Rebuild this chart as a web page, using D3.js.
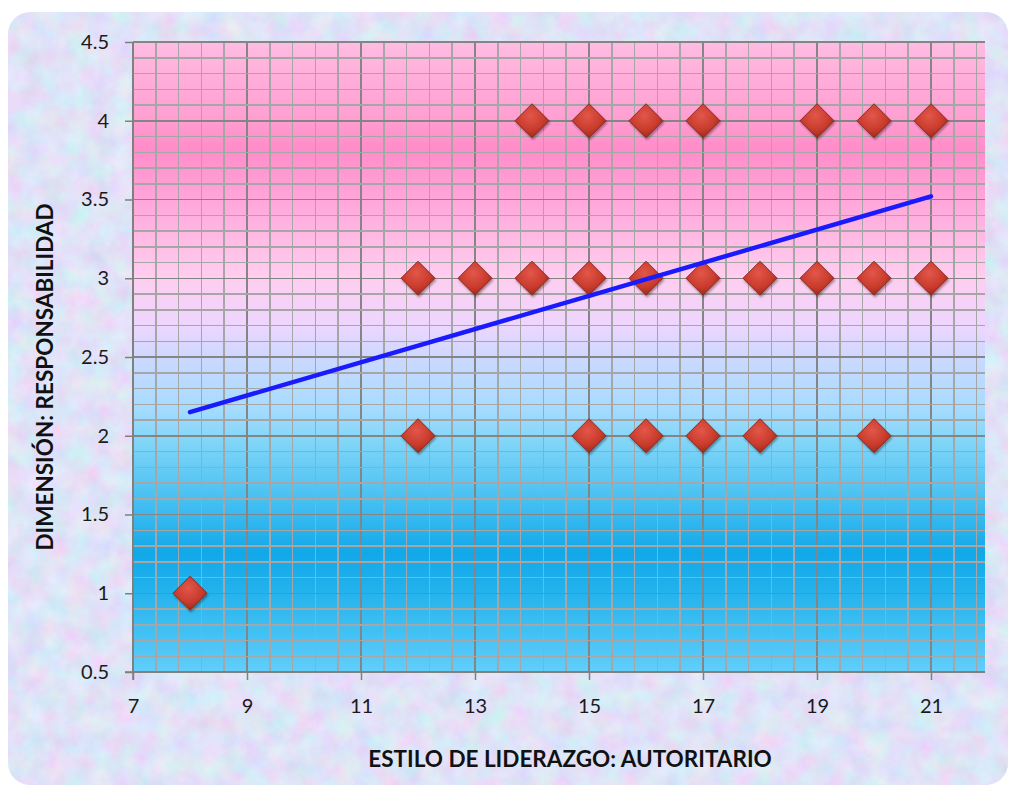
<!DOCTYPE html>
<html><head><meta charset="utf-8">
<script src="https://cdn.jsdelivr.net/npm/d3@7"></script>
<style>body{margin:0;background:#fff}svg{display:block}</style>
</head><body>
<svg id="chart" width="1016" height="789"></svg>
<script>
// Data
const pointX = [8, 12, 12, 13, 14, 14, 15, 15, 15, 16, 16, 16, 17, 17, 17, 18, 18, 19, 19, 20, 20, 20, 21, 21];
const pointY = [1, 3, 2, 3, 4, 3, 4, 3, 2, 4, 3, 2, 4, 3, 2, 3, 2, 4, 3, 4, 3, 2, 4, 3];
const trendX = [8, 21];
const trendY = [2.15, 3.52];
const xTicks = [7, 9, 11, 13, 15, 17, 19, 21];
const yTicks = [0.5, 1, 1.5, 2, 2.5, 3, 3.5, 4, 4.5];
const xTitle = "ESTILO DE LIDERAZGO: AUTORITARIO";
const yTitle = "DIMENSIÓN: RESPONSABILIDAD";

(function(){
const svg = d3.select("#chart");
const defs = svg.append("defs");
const font = "Lato, 'Open Sans', sans-serif";

// Textured outer background
const texF = defs.append("filter").attr("id","tex").attr("x",0).attr("y",0).attr("width","100%").attr("height","100%");
texF.append("feTurbulence").attr("type","fractalNoise").attr("baseFrequency","0.045").attr("numOctaves",4).attr("seed",7).attr("result","n");
texF.append("feColorMatrix").attr("in","n").attr("type","matrix")
  .attr("values","0.55 -0.2 0 0 0.62  -0.1 0.5 0 0 0.62  0 0 0.25 0 0.8  0 0 0 0 1");
const clip = defs.append("clipPath").attr("id","bgclip");
clip.append("rect").attr("x",8).attr("y",12).attr("width",1000).attr("height",773).attr("rx",22);
svg.append("g").attr("clip-path","url(#bgclip)")
  .append("rect").attr("x",8).attr("y",12).attr("width",1000).attr("height",773)
  .attr("filter","url(#tex)");
svg.append("rect").attr("x",8).attr("y",12).attr("width",1000).attr("height",773).attr("rx",22)
  .attr("fill","#d0d4f8").attr("opacity",0.3);

// Scales
const x = d3.scaleLinear().domain([7, 22]).range([133, 988]);
const y = d3.scaleLinear().domain([0.5, 4.5]).range([672, 42]);
const pL = x(7), pR = 985, pT = y(4.5), pB = y(0.5);

// Plot gradient
const grad = defs.append("linearGradient").attr("id","plotg").attr("x1",0).attr("y1",0).attr("x2",0).attr("y2",1);
const stops = [[0,"#ffbce2"],[0.12,"#ff9fd2"],[0.17,"#ff8cca"],[0.25,"#ffa6da"],[0.37,"#ffcdef"],[0.45,"#eed6ff"],[0.5,"#cdd8ff"],[0.58,"#a6dcff"],[0.63,"#84d6f8"],[0.75,"#38baf0"],[0.81,"#12a8e8"],[0.87,"#22b2ec"],[1,"#62cefa"]];
stops.forEach(s => grad.append("stop").attr("offset",s[0]).attr("stop-color",s[1]));
svg.append("rect").attr("x",pL).attr("y",pT).attr("width",pR-pL).attr("height",pB-pT).attr("fill","url(#plotg)");

// Grid
const gx = svg.append("g");
d3.range(0, 38).map(i => 7 + i*0.4).filter(v => x(v) <= pR+0.5).forEach(v => {
  const major = Math.abs((v-7)/2 - Math.round((v-7)/2)) < 1e-6;
  gx.append("line").attr("x1",x(v)).attr("x2",x(v)).attr("y1",pT).attr("y2",pB)
    .attr("stroke", major ? "#858585" : "#a6a6a6").attr("stroke-width",1.5).attr("shape-rendering","crispEdges");
});
d3.range(0, 41).map(i => 0.5 + i*0.1).forEach(v => {
  const major = Math.abs(v*2 - Math.round(v*2)) < 1e-6;
  gx.append("line").attr("x1",pL).attr("x2",pR).attr("y1",y(v)).attr("y2",y(v))
    .attr("stroke", major ? "#858585" : "#a6a6a6").attr("stroke-width",1.5).attr("shape-rendering","crispEdges");
});

// Axes
const xAxis = d3.axisBottom(x).tickValues(xTicks).tickSize(8).tickPadding(19).tickFormat(d3.format("d"));
const yAxis = d3.axisLeft(y).tickValues(yTicks).tickSize(8).tickPadding(16).tickFormat(d => String(d));
const ax = svg.append("g").attr("transform",`translate(0,${pB})`).call(xAxis);
const ay = svg.append("g").attr("transform",`translate(${pL},0)`).call(yAxis);
[ax, ay].forEach(g => {
  g.select(".domain").remove();
  g.attr("font-size", null).attr("font-family", null);
  g.selectAll("line").attr("stroke","#7f7f7f").attr("stroke-width",1.5);
  g.selectAll("text").attr("fill","#1a1a1a").style("font-family",font).style("font-size","20px");
});
svg.append("line").attr("x1",pL-8).attr("x2",pR).attr("y1",pB).attr("y2",pB).attr("stroke","#7f7f7f").attr("stroke-width",1.5);
svg.append("line").attr("x1",pL).attr("x2",pL).attr("y1",pT).attr("y2",pB+8).attr("stroke","#7f7f7f").attr("stroke-width",1.5);

// Diamond gradient
const dg = defs.append("radialGradient").attr("id","dia").attr("cx","45%").attr("cy","35%").attr("r","70%");
dg.append("stop").attr("offset",0).attr("stop-color","#e2574a");
dg.append("stop").attr("offset",0.6).attr("stop-color","#c93b2c");
dg.append("stop").attr("offset",1).attr("stop-color","#902619");
const sh = defs.append("filter").attr("id","sh").attr("x","-30%").attr("y","-30%").attr("width","160%").attr("height","160%");
sh.append("feDropShadow").attr("dx",1).attr("dy",2).attr("stdDeviation",1.2).attr("flood-color","#000").attr("flood-opacity",0.35);

const pts = pointX.map((v,i) => ({x:v, y:pointY[i]}));
const h = 17;
svg.append("g").selectAll("path").data(pts).join("path")
  .attr("d", `M0,${-h}L${h},0L0,${h}L${-h},0Z`)
  .attr("transform", d => `translate(${x(d.x)},${y(d.y)})`)
  .attr("fill","url(#dia)").attr("stroke","#8a2a1e").attr("stroke-width",1).attr("filter","url(#sh)");

// Trend line
svg.append("path").datum(trendX.map((v,i)=>[v,trendY[i]]))
  .attr("d", d3.line().x(d=>x(d[0])).y(d=>y(d[1])))
  .attr("fill","none").attr("stroke","#1a1aff").attr("stroke-width",4.5).attr("stroke-linecap","round");

// Titles
svg.append("text").attr("x",570).attr("y",767).attr("text-anchor","middle")
  .style("font-family",font).style("font-size","22.5px").style("font-weight","bold").attr("fill","#111").text(xTitle);
svg.append("text").attr("transform","translate(53,377) rotate(-90)").attr("text-anchor","middle")
  .style("font-family",font).style("font-size","22.5px").style("font-weight","bold").attr("fill","#111").text(yTitle);
})();
</script>
</body></html>
